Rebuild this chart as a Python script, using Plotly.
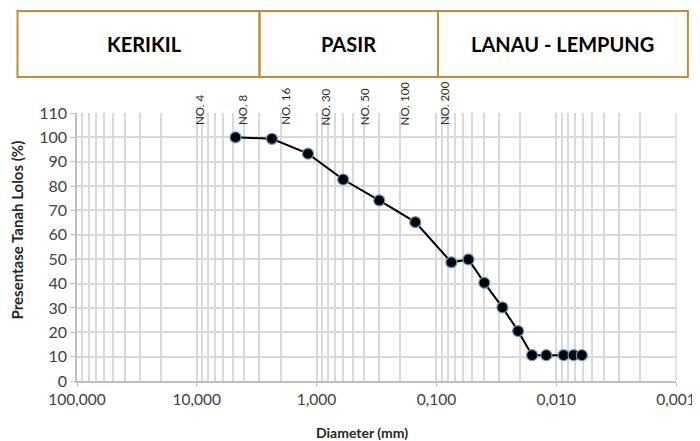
import math
import plotly.graph_objects as go

# Data
diameter_mm = [4.75, 2.36, 1.18, 0.60, 0.30, 0.15, 0.075, 0.054, 0.0398, 0.0281,
               0.0208, 0.0159, 0.0121, 0.00866, 0.00716, 0.00611]
percent_passing = [100, 99.4, 93.3, 82.7, 74.1, 65.2, 48.7, 49.9, 40.3, 30.2,
                   20.5, 10.6, 10.6, 10.6, 10.6, 10.6]

x_tick_vals = [100, 10, 1, 0.1, 0.01, 0.001]
x_tick_text = ["100,000", "10,000", "1,000", "0,100", "0,010", "0,001"]

sieve_labels = ["NO. 4", "NO. 8", "NO. 16", "NO. 30", "NO. 50", "NO. 100", "NO. 200"]
sieve_label_pos = [9.6, 4.2, 1.83, 0.836, 0.397, 0.185, 0.0865]

header_labels = ["KERIKIL", "PASIR", "LANAU - LEMPUNG"]

minor_vals = [m * 10 ** e for e in range(-3, 2) for m in range(2, 10)]

fig = go.Figure()
fig.add_trace(go.Scatter(
    x=diameter_mm, y=percent_passing, mode="lines+markers",
    line=dict(color="black", width=2),
    marker=dict(size=11, color="black", line=dict(color="#5B9BD5", width=1.2)),
    showlegend=False,
))

grid_col = "#D9D9D9"
# page has an 8px body margin: plot area is at page x 77..681, y 113..381
fig.update_layout(
    width=700, height=441,
    margin=dict(l=69, r=27, t=105, b=68),
    paper_bgcolor="white", plot_bgcolor="white",
    font=dict(family="Lato, Open Sans, sans-serif", color="#404040", size=15.5),
    xaxis=dict(
        type="log", range=[2, -3],
        tickvals=x_tick_vals, ticktext=x_tick_text,
        showgrid=True, gridcolor=grid_col, gridwidth=1.5,
        minor=dict(tickvals=minor_vals, showgrid=True, gridcolor=grid_col, gridwidth=1.5,
                   ticks=""),
        showline=True, linecolor="#BFBFBF", linewidth=1.5,
        ticks="outside", ticklen=4, tickcolor="#BFBFBF",
        tickfont=dict(size=15.5, color="#404040"),
        mirror=False, zeroline=False,
    ),
    yaxis=dict(
        range=[0, 110], dtick=10,
        showgrid=True, gridcolor=grid_col, gridwidth=1.5,
        showline=True, linecolor="#BFBFBF", linewidth=1.5,
        ticks="outside", ticklen=5, tickcolor="#BFBFBF",
        tickfont=dict(size=16, color="#404040"),
        zeroline=False,
    ),
)

fig.add_shape(type="line", xref="paper", yref="paper", x0=1, x1=1, y0=0, y1=1,
              line=dict(color=grid_col, width=1.5))

# header table (positions given in page pixels, converted to paper coords)
box_col = "#B8913A"
pw, ph = 604.0, 268.0
def px_x(p):
    return (p - 77) / pw
def px_y(p):
    return (381 - p) / ph

edges = [17, 261, 441, 693]
top, bot = 11, 77
for i in range(3):
    fig.add_shape(type="rect", xref="paper", yref="paper",
                  x0=px_x(edges[i]), x1=px_x(edges[i + 1]),
                  y0=px_y(bot), y1=px_y(top),
                  line=dict(color=box_col, width=2), fillcolor="rgba(0,0,0,0)")
    fig.add_annotation(xref="paper", yref="paper",
                       x=(px_x(edges[i]) + px_x(edges[i + 1])) / 2 + (0.01 if i == 0 else 0),
                       y=px_y((top + bot) / 2),
                       text="<b>%s</b>" % header_labels[i], showarrow=False,
                       font=dict(family="Lato, DejaVu Sans, sans-serif", size=20, color="black"),
                       xanchor="center", yanchor="middle")

for lab, pos in zip(sieve_labels, sieve_label_pos):
    fig.add_annotation(x=math.log10(pos), y=px_y(127), xref="x", yref="paper",
                       text=lab, textangle=-90, showarrow=False,
                       xanchor="center", yanchor="bottom",
                       font=dict(family="Lato, sans-serif", size=11.5, color="#262626"))

fig.add_annotation(xref="paper", yref="paper", x=px_x(17), y=px_y(230),
                   text="<b>Presentase Tanah Lolos (%)</b>", textangle=-90, showarrow=False,
                   xanchor="center", yanchor="middle",
                   font=dict(family="Lato, sans-serif", size=15, color="#262626"))
fig.add_annotation(xref="paper", yref="paper", x=px_x(364), y=px_y(432),
                   text="<b>Diameter (mm)</b>", showarrow=False,
                   xanchor="center", yanchor="middle",
                   font=dict(family="Lato, sans-serif", size=14, color="#262626"))

fig.write_html("out.html")
